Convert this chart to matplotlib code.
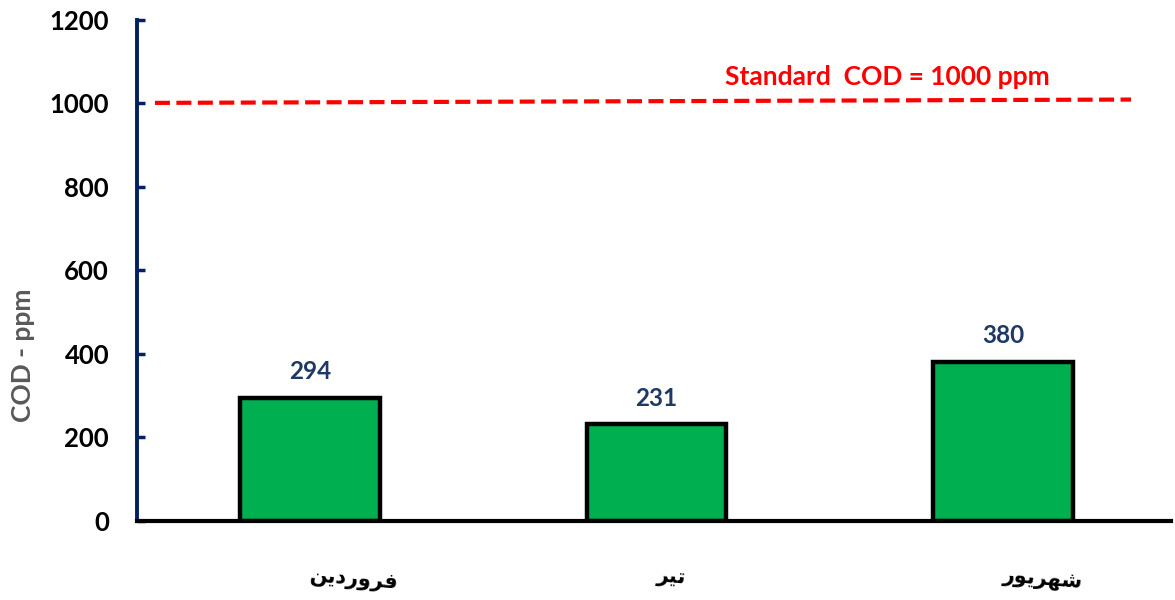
import matplotlib
matplotlib.use("Agg")
import matplotlib.pyplot as plt

# Persian month labels (pre-shaped with Arabic presentation forms, visual order)
# فروردین, تیر, شهریور
categories = ["\uFEE6\uFEF3\uFEA9\uFEAD\uFEED\uFEAE\uFED3",
              "\uFEAE\uFEF4\uFE97",
              "\uFEAD\uFEEE\uFEF3\uFEAE\uFEEC\uFEB7"]
cod_values = [294, 231, 380]
standard_x = [-0.447, 2.369]
standard_y = [1001, 1009]
standard_label = "Standard  COD = 1000 ppm"
yticks = [0, 200, 400, 600, 800, 1000, 1200]

plt.rcParams['font.family'] = ['Lato', 'DejaVu Sans']

fig = plt.figure(figsize=(11.75, 6), dpi=100)
ax = fig.add_axes([0.1165, 0.132, 0.88, 0.835])

x = list(range(len(categories)))
ax.bar(x, cod_values, width=0.403, color="#00B050", edgecolor="black",
       linewidth=3.2, zorder=2)

for xi, v in zip(x, cod_values):
    ax.text(xi, v + 63, str(v), ha="center", va="center", fontsize=17.5,
            fontweight="bold", color="#1F3864")

ax.plot(standard_x, standard_y, color="#FF0000", linewidth=3,
        dashes=(3.6, 1.55), zorder=3)
ax.text(1.666, 1063, standard_label, ha="center", va="center", fontsize=19,
        fontweight="bold", color="#FF0000")

ax.set_xlim(-0.499, 2.484)
ax.set_ylim(0, 1200)
ax.set_yticks(yticks)
ax.set_yticklabels([str(t) for t in yticks], fontsize=18.5, fontweight="bold")
ax.set_xticks(x)
ax.set_xticklabels(categories, fontsize=15, fontweight="bold",
                   family=['DejaVu Sans'], rotation=-5, ha="left",
                   va="center", rotation_mode="anchor")

for s in ["top", "right"]:
    ax.spines[s].set_visible(False)
ax.spines["left"].set_color("#002060")
ax.spines["left"].set_linewidth(2.8)
ax.spines["bottom"].set_color("black")
ax.spines["bottom"].set_linewidth(3)
ax.spines["bottom"].set_zorder(4)

ax.tick_params(axis="y", direction="in", length=6, width=2.5, color="#002060",
               pad=20)
ax.tick_params(axis="x", direction="in", length=4, width=2.5, color="black",
               pad=40)

ax.set_ylabel("COD - ppm", fontsize=19, fontweight="bold", color="#595959")
ax.yaxis.set_label_coords(-0.099, 0.33)

fig.savefig("out.png", dpi=100)
